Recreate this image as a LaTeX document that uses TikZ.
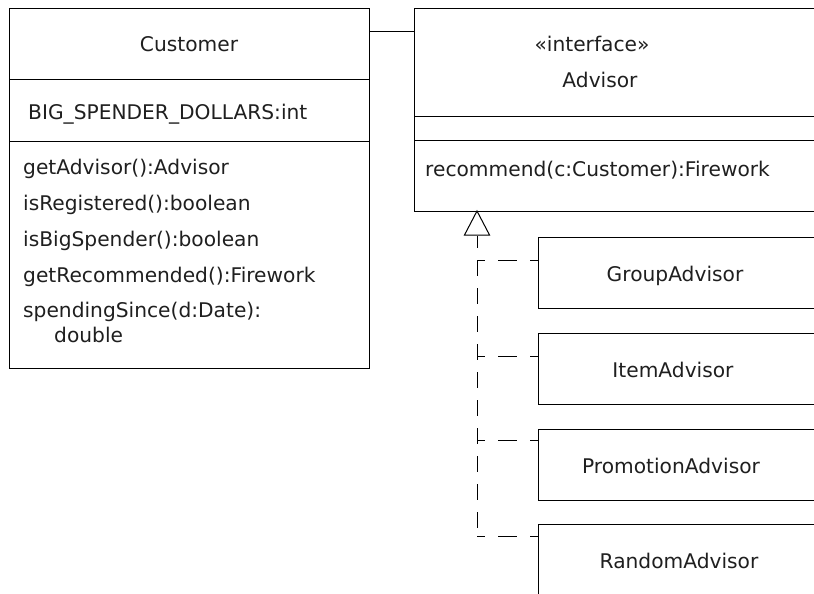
\documentclass[tikz,border=0pt]{standalone}
\usepackage{fontspec}
\setmainfont{DejaVu Sans}
\begin{document}
\begin{tikzpicture}[x=1pt,y=-1pt,
  box/.style={draw, line width=1pt, rectangle, inner sep=0pt, anchor=north west},
  lbl/.style={inner sep=0pt, font=\fontsize{20.2}{24}\selectfont, text=black!88},
  solidline/.style={line width=1pt},
  real/.style={line width=1pt, dash pattern=on 19pt off 13pt, dash phase=11pt},
  realv/.style={line width=1pt, dash pattern=on 16pt off 12pt, dash phase=4pt}]
\useasboundingbox (0,0) rectangle (814,594);
\clip (0,0) rectangle (814,594);
% Customer class
\node[box, minimum width=360pt, minimum height=360pt] (cust) at (9,8) {};
\draw[solidline] (9,80) -- (369,80);
\draw[solidline] (9,141) -- (369,141);
\node[lbl, anchor=base] (custname) at (189,52) {Customer};
\node[lbl, anchor=base west] (a1) at (28,119) {BIG\_SPENDER\_DOLLARS:int};
\node[lbl, anchor=base west] (m1) at (23,174) {getAdvisor():Advisor};
\node[lbl, anchor=base west] (m2) at (23,210) {isRegistered():boolean};
\node[lbl, anchor=base west] (m3) at (23,246) {isBigSpender():boolean};
\node[lbl, anchor=base west] (m4) at (23,282) {getRecommended():Firework};
\node[lbl, anchor=base west] (m5) at (23,317) {spendingSince(d:Date):};
\node[lbl, anchor=base west] (m5b) at (54,342) {double};
% Advisor interface
\node[box, minimum width=430pt, minimum height=203pt] (adv) at (414,8) {};
\draw[solidline] (414,116) -- (830,116);
\draw[solidline] (414,140) -- (830,140);
\node[lbl, anchor=base] (stereo) at (592,52) {«interface»};
\node[lbl, anchor=base] (advname) at (600,88) {Advisor};
\node[lbl, anchor=base west] (rec) at (425,176) {recommend(c:Customer):Firework};
% association
\coordinate (as) at (0,32);
\draw[solidline] (cust.east |- as) -- (adv.west |- as);
% implementing classes
\node[box, minimum width=300pt, minimum height=71pt] (grp) at (538,237) {};
\node[box, minimum width=300pt, minimum height=71pt] (itm) at (538,333) {};
\node[box, minimum width=300pt, minimum height=71pt] (pro) at (538,429) {};
\node[box, minimum width=300pt, minimum height=100pt] (rnd) at (538,524) {};
\node[lbl, anchor=base] (grpname) at (675,281) {GroupAdvisor};
\node[lbl, anchor=base] (itmname) at (673,377) {ItemAdvisor};
\node[lbl, anchor=base] (proname) at (671,473) {PromotionAdvisor};
\node[lbl, anchor=base] (rndname) at (679,568) {RandomAdvisor};
% realization
\coordinate (tip) at (477,211);
\coordinate (tb) at (477,236);
\coordinate (corner) at (477,536);
\coordinate (yg) at (0,260);
\coordinate (yi) at (0,356);
\coordinate (yp) at (0,440);
\draw[realv] (tb) -- (corner);
\draw[real] (corner) -- (rnd.west |- corner);
\draw[real] (tb |- yg) -- (grp.west |- yg);
\draw[real] (tb |- yi) -- (itm.west |- yi);
\draw[real] (tb |- yp) -- (pro.west |- yp);
\draw[solidline, fill=white] (tip) -- ++(-12.5,24) -- ++(25,0) -- cycle;
\end{tikzpicture}
\end{document}
